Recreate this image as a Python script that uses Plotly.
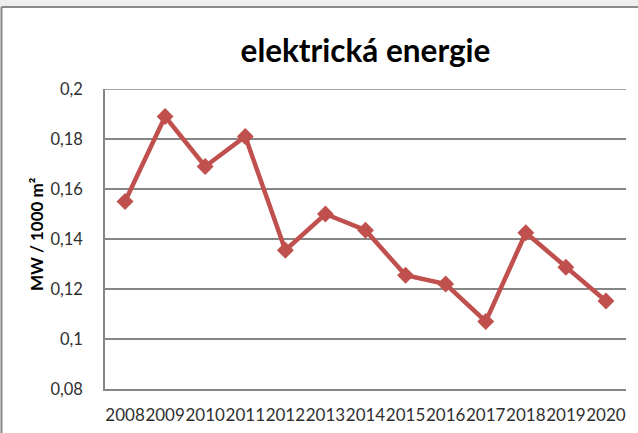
import plotly.graph_objects as go

years = ["2008", "2009", "2010", "2011", "2012", "2013", "2014",
         "2015", "2016", "2017", "2018", "2019", "2020"]
values = [0.155, 0.189, 0.169, 0.181, 0.1355, 0.150, 0.1435,
          0.1255, 0.122, 0.107, 0.1425, 0.1287, 0.1152]
y_tickvals = [0.08, 0.10, 0.12, 0.14, 0.16, 0.18, 0.20]
y_ticktext = ["0,08", "0,1", "0,12", "0,14", "0,16", "0,18", "0,2"]
title_text = "elektrická energie"
y_title = "MW / 1000 m²"

W, H = 638, 433
L, R, T, B = 105, 12, 89, 44
pw, ph = W - L - R, H - T - B

def px(x):
    return (x - L) / pw

def py(y):
    return (H - B - y) / ph

GRID = "#868686"
RED = "#C0504D"
FONT = "Lato, 'Open Sans', sans-serif"

fig = go.Figure()
fig.add_trace(go.Scatter(
    x=years, y=values, mode="lines+markers",
    line=dict(color=RED, width=4.5),
    marker=dict(symbol="diamond", size=13, color=RED),
    showlegend=False, hoverinfo="x+y",
))

fig.update_layout(
    width=W, height=H,
    margin=dict(l=L, r=R, t=T, b=B, autoexpand=False),
    paper_bgcolor="white", plot_bgcolor="white",
    font=dict(family=FONT, size=17, color="#404040"),
    title=dict(text=title_text, x=0.5, xref="paper", xanchor="center",
               y=1 - 51 / H, yref="container", yanchor="middle",
               font=dict(family=FONT, size=31.5, color="black", weight="bold")),
    xaxis=dict(type="category", range=[-0.5, 12.5], showgrid=False,
               showline=True, linecolor=GRID, linewidth=1.5, automargin=False,
               ticks="", ticklabelstandoff=10, tickangle=0,
               tickfont=dict(size=17, color="#303030")),
    yaxis=dict(range=[0.08, 0.2], tickvals=y_tickvals, ticktext=y_ticktext,
               showgrid=True, gridcolor=GRID, gridwidth=1.5, automargin=False,
               showline=True, linecolor=GRID, linewidth=1.5,
               zeroline=False, ticks="", ticklabelstandoff=17,
               tickfont=dict(size=16.5, color="#303030")),
    annotations=[dict(text=y_title, textangle=-90, xref="paper", yref="paper",
                      x=px(37), y=py(234), xanchor="center", yanchor="middle",
                      showarrow=False,
                      font=dict(family=FONT, size=17, color="black", weight="bold"))],
    shapes=[
        dict(type="rect", xref="paper", yref="paper", x0=px(-5), x1=px(W + 5),
             y0=py(7), y1=py(-5), fillcolor="#eeeeee", line=dict(width=0), layer="below"),
        dict(type="rect", xref="paper", yref="paper", x0=px(-5), x1=px(1),
             y0=py(H + 5), y1=py(-5), fillcolor="#eeeeee", line=dict(width=0), layer="below"),
        dict(type="line", xref="paper", yref="paper", x0=px(1.5), x1=px(W + 5),
             y0=py(7), y1=py(7), line=dict(color="#8a8a8a", width=2)),
        dict(type="line", xref="paper", yref="paper", x0=px(1.5), x1=px(1.5),
             y0=py(7), y1=py(H + 5), line=dict(color="#8a8a8a", width=2)),
        dict(type="line", xref="paper", yref="y", x0=0, x1=1, y0=0.2, y1=0.2,
             line=dict(color=GRID, width=1.5), layer="below"),
    ],
)

fig.write_html("out.html", config={"displayModeBar": False},
               post_script="document.body.style.margin='0';document.body.style.overflow='hidden';")
